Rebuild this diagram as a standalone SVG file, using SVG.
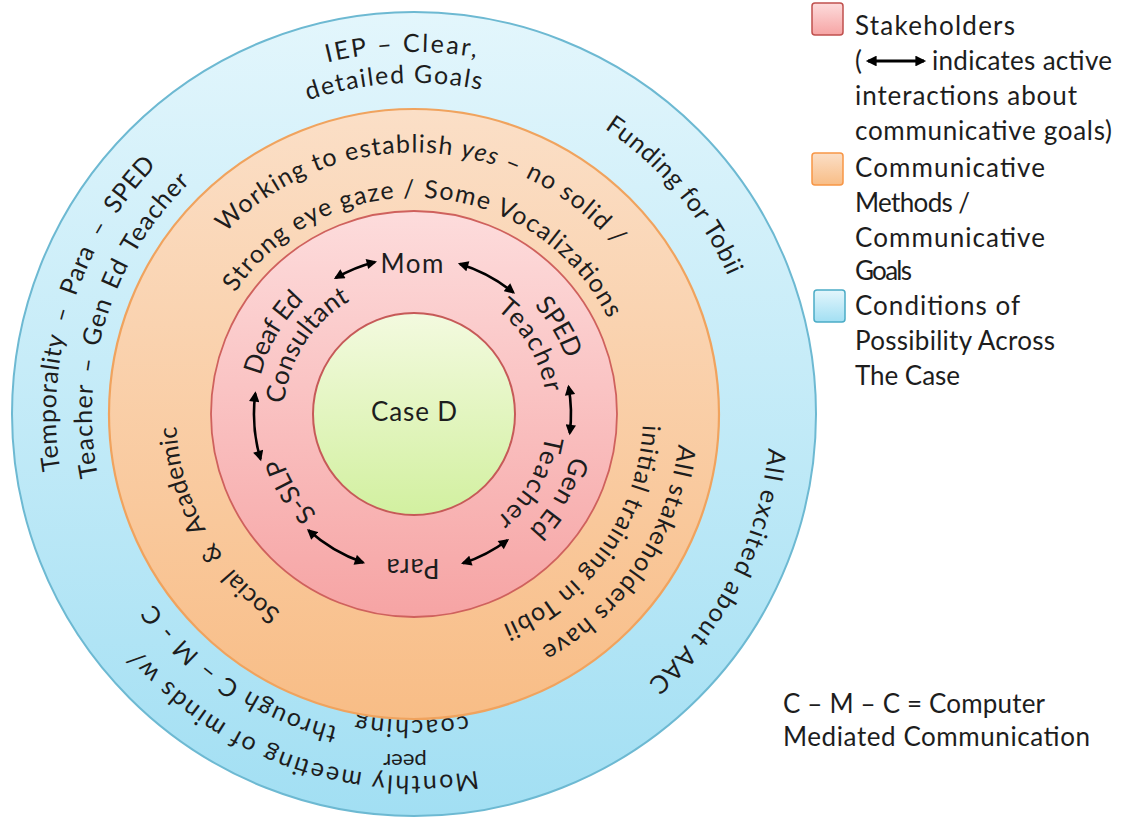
<svg xmlns="http://www.w3.org/2000/svg" width="1122" height="817" viewBox="0 0 1122 817">
<style>
.t{font-family:Lato,"Liberation Sans",sans-serif;fill:#1d1d1d}
.ring{font-size:25px}
.lbl{font-size:26px}
.leg{font-size:26px}
.arrow{fill:none;stroke:#000;stroke-width:2.6;marker-start:url(#ah);marker-end:url(#ah)}
.arrow-leg{fill:none;stroke:#000;stroke-width:3;marker-start:url(#ah2);marker-end:url(#ah2)}
</style>
<defs>
<linearGradient id="gBlue" x1="0" y1="0" x2="0" y2="1"><stop offset="0" stop-color="#e3f6fc"/><stop offset="1" stop-color="#a2dff3"/></linearGradient>
<linearGradient id="gOrange" x1="0" y1="0" x2="0" y2="1"><stop offset="0" stop-color="#fbdfc7"/><stop offset="1" stop-color="#f8bd86"/></linearGradient>
<linearGradient id="gPink" x1="0" y1="0" x2="0" y2="1"><stop offset="0" stop-color="#fddcdc"/><stop offset="1" stop-color="#f6a4a4"/></linearGradient>
<linearGradient id="gGreen" x1="0" y1="0" x2="0" y2="1"><stop offset="0" stop-color="#f3fadf"/><stop offset="1" stop-color="#d2f0a0"/></linearGradient>
<marker id="ah" viewBox="0 0 10 10" refX="8" refY="5" markerWidth="4.4" markerHeight="4" orient="auto-start-reverse" markerUnits="strokeWidth"><path d="M0,0 L10,5 L0,10 z" fill="#000"/></marker>
<marker id="ah2" viewBox="0 0 10 10" refX="8" refY="5" markerWidth="4.2" markerHeight="3.6" orient="auto-start-reverse" markerUnits="strokeWidth"><path d="M0,0 L10,5 L0,10 z" fill="#000"/></marker>
<path id="p-iep1" d="M171.8,145 A362,362 0 0 1 636.9,128.7"/>
<path id="p-iep2" d="M186.1,173.9 A331,331 0 0 1 610.9,147.9"/>
<path id="p-fund" d="M473.6,76.2 A343,343 0 0 1 757,414"/>
<path id="p-temp1" d="M112.1,606.4 A358,358 0 0 1 277,83.2"/>
<path id="p-temp2" d="M142.7,587.5 A322,322 0 0 1 290.3,116.7"/>
<path id="p-excited" d="M761.1,335.1 A356,356 0 0 1 552,742.2"/>
<path id="p-month1" d="M596.6,726.6 A362,362 0 0 1 74.5,539.6"/>
<path id="p-month2" d="M503.8,723.2 A322,322 0 0 1 93.9,448.8"/>
<path id="p-coach" d="M516.7,702.3 A306,306 0 0 1 307.3,700.8"/>
<path id="p-work" d="M154,382.1 A262,262 0 0 1 675.6,400.3"/>
<path id="p-strong" d="M198.8,395.2 A216,216 0 0 1 629.7,425.3"/>
<path id="p-social" d="M350.4,643.3 A238,238 0 0 1 184.7,350.4"/>
<path id="p-allst" d="M669.7,340.7 A266,266 0 0 1 441.8,678.5"/>
<path id="p-init" d="M635.2,354.7 A229,229 0 0 1 434,642.1"/>
<path id="p-sped" d="M492.5,272.3 A162,162 0 0 1 576,411.2"/>
<path id="p-teach1" d="M479.5,298.2 A133,133 0 0 1 547,412.8"/>
<path id="p-gened" d="M577,414 A163,163 0 0 1 495.5,555.2"/>
<path id="p-teach2" d="M547,415.2 A133,133 0 0 1 479.5,529.8"/>
<path id="p-sslp" d="M348.7,536.7 A139,139 0 0 1 275.1,418.9"/>
<path id="p-deaf" d="M256,414 A158,158 0 0 1 335,277.2"/>
<path id="p-cons" d="M284.1,408.3 A130,130 0 0 1 354,298.7"/>
</defs>
<rect width="1122" height="817" fill="#fff"/>

<g id="ring-conditions">
<circle cx="414" cy="414" r="402" fill="url(#gBlue)" stroke="#6db9d2" stroke-width="2"/>
<g class="t ring" text-anchor="middle">
<text><textPath href="#p-iep1" startOffset="50%" textLength="150" lengthAdjust="spacing">IEP – Clear,</textPath></text>
<text><textPath href="#p-iep2" startOffset="50%" textLength="175" lengthAdjust="spacing">detailed Goals</textPath></text>
<text><textPath href="#p-fund" startOffset="50%" textLength="195" lengthAdjust="spacing">Funding for Tobii</textPath></text>
<text word-spacing="6"><textPath href="#p-temp1" startOffset="50%" textLength="331" lengthAdjust="spacing">Temporality – Para – SPED</textPath></text>
<text word-spacing="4"><textPath href="#p-temp2" startOffset="50%" textLength="321" lengthAdjust="spacing">Teacher – Gen Ed Teacher</textPath></text>
<text><textPath href="#p-excited" startOffset="50%" textLength="270" lengthAdjust="spacing">All excited about AAC</textPath></text>
<text><textPath href="#p-month1" startOffset="50%" textLength="376" lengthAdjust="spacing">Monthly meeting of minds w/</textPath></text>
<text><textPath href="#p-month2" startOffset="50%" textLength="226" lengthAdjust="spacing">through C – M - C</textPath></text>
<text><textPath href="#p-coach" startOffset="50%" textLength="112" lengthAdjust="spacing">coaching</textPath></text>
</g>
<text class="t" font-size="22" transform="translate(405,754) rotate(180)" text-anchor="middle">peer</text>
</g>

<g id="ring-methods">
<circle cx="414" cy="414" r="305" fill="url(#gOrange)" stroke="#f0a35e" stroke-width="2.2"/>
<g class="t ring" text-anchor="middle">
<text><textPath href="#p-work" startOffset="50%" textLength="439" lengthAdjust="spacing">Working to establish <tspan font-style="italic">yes</tspan> – no solid /</textPath></text>
<text><textPath href="#p-strong" startOffset="50%" textLength="452" lengthAdjust="spacing">Strong eye gaze / Some Vocalizations</textPath></text>
<text word-spacing="8"><textPath href="#p-social" startOffset="50%" textLength="220" lengthAdjust="spacing">Social &amp; Academic</textPath></text>
<text><textPath href="#p-allst" startOffset="50%" textLength="255" lengthAdjust="spacing">All stakeholders have</textPath></text>
<text><textPath href="#p-init" startOffset="50%" textLength="258" lengthAdjust="spacing">initial training in Tobii</textPath></text>
</g>
</g>

<g id="ring-stakeholders">
<circle cx="414" cy="414" r="203" fill="url(#gPink)" stroke="#cf615d" stroke-width="1.8"/>
</g>

<g id="node-case-d">
<circle cx="414" cy="414" r="101" fill="url(#gGreen)" stroke="#c65a58" stroke-width="2"/>
<text class="t lbl" x="414" y="421" text-anchor="middle" textLength="86" lengthAdjust="spacing">Case D</text>
</g>

<g id="node-mom"><text class="t lbl" x="412" y="273" text-anchor="middle" textLength="63" lengthAdjust="spacing">Mom</text></g>
<g id="node-sped-teacher" class="t lbl" text-anchor="middle">
<text><textPath href="#p-sped" startOffset="50%" textLength="63" lengthAdjust="spacing">SPED</textPath></text>
<text><textPath href="#p-teach1" startOffset="50%" textLength="98" lengthAdjust="spacing">Teacher</textPath></text>
</g>
<g id="node-gen-ed-teacher" class="t lbl" text-anchor="middle">
<text><textPath href="#p-gened" startOffset="50%" textLength="86" lengthAdjust="spacing">Gen Ed</textPath></text>
<text><textPath href="#p-teach2" startOffset="50%" textLength="98" lengthAdjust="spacing">Teacher</textPath></text>
</g>
<g id="node-para"><text class="t lbl" transform="translate(413,559) rotate(180)" text-anchor="middle" textLength="53" lengthAdjust="spacing">Para</text></g>
<g id="node-s-slp" class="t lbl" text-anchor="middle"><text><textPath href="#p-sslp" startOffset="50%" textLength="67" lengthAdjust="spacing">S-SLP</textPath></text></g>
<g id="node-deaf-ed-consultant" class="t lbl" text-anchor="middle">
<text><textPath href="#p-deaf" startOffset="50%" textLength="88" lengthAdjust="spacing">Deaf Ed</textPath></text>
<text><textPath href="#p-cons" startOffset="50%" textLength="127" lengthAdjust="spacing">Consultant</textPath></text>
</g>

<g id="connectors">
<path class="arrow" d="M335.7,277.9 A157,157 0 0 1 375,261.9"/>
<path class="arrow" d="M459.9,263.9 A157,157 0 0 1 513.4,292.5"/>
<path class="arrow" d="M568.6,386.7 A157,157 0 0 1 569.8,433.1"/>
<path class="arrow" d="M507.4,540.2 A157,157 0 0 1 463,563.2"/>
<path class="arrow" d="M363.1,562.5 A157,157 0 0 1 308.5,530.3"/>
<path class="arrow" d="M260.5,459.2 A160,160 0 0 1 255.3,393.4"/>
</g>

<g id="legend">
<rect x="812" y="3" width="31" height="32" rx="3" fill="url(#gPink)" stroke="#c0504d" stroke-width="1.5"/>
<rect x="812" y="153" width="31" height="32" rx="3" fill="url(#gOrange)" stroke="#f79646" stroke-width="1.5"/>
<rect x="814" y="290" width="31" height="32" rx="3" fill="url(#gBlue)" stroke="#4bacc6" stroke-width="1.5"/>
<g class="t leg">
<text x="855" y="35" textLength="160" lengthAdjust="spacing">Stakeholders</text>
<text x="855" y="70">(</text>
<text x="932" y="70" textLength="180" lengthAdjust="spacing">indicates active</text>
<text x="855" y="105" textLength="222" lengthAdjust="spacing">interactions about</text>
<text x="855" y="140" textLength="257" lengthAdjust="spacing">communicative goals)</text>
<text x="855" y="177" textLength="190" lengthAdjust="spacing">Communicative</text>
<text x="855" y="212" textLength="115" lengthAdjust="spacing">Methods /</text>
<text x="855" y="247" textLength="190" lengthAdjust="spacing">Communicative</text>
<text x="855" y="280" textLength="57" lengthAdjust="spacing">Goals</text>
<text x="855" y="315" textLength="165" lengthAdjust="spacing">Conditions of</text>
<text x="855" y="350" textLength="200" lengthAdjust="spacing">Possibility Across</text>
<text x="855" y="385" textLength="105" lengthAdjust="spacing">The Case</text>
<text x="783" y="713" textLength="262" lengthAdjust="spacing">C – M – C = Computer</text>
<text x="783" y="746" textLength="307" lengthAdjust="spacing">Mediated Communication</text>
</g>
<path class="arrow-leg" d="M868,61 L924,61"/>
</g>
</svg>
